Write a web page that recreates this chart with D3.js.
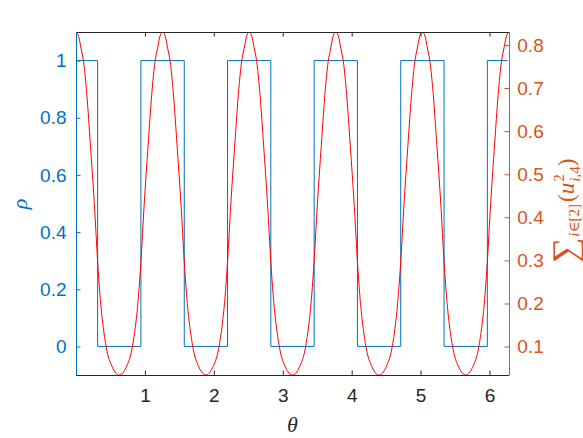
<!DOCTYPE html>
<html>
<head>
<meta charset="utf-8">
<script src="https://cdn.jsdelivr.net/npm/d3@7"></script>
<style>
  body { margin: 0; background: #fff; }
  svg { display: block; }
</style>
</head>
<body>
<div id="chart"></div>
<script>
// blue step curve (rho): edges of each segment and its level
var stepEdges = [0, 0.314, 0.942, 1.571, 2.199, 2.827, 3.456, 4.084, 4.712, 5.341, 5.969, 6.262];
var stepLevels = [1, 0, 1, 0, 1, 0, 1, 0, 1, 0, 1];

// red curve, theta positions and values
var theta = [
  0, 0.04, 0.072, 0.109, 0.157, 0.209, 0.267, 0.314, 0.348, 0.435, 0.528, 0.628, 0.728, 0.821, 0.908, 0.942, 0.989, 1.047, 1.099, 1.147, 1.184, 1.216,
  1.257, 1.297, 1.329, 1.366, 1.414, 1.466, 1.524, 1.571, 1.605, 1.692, 1.785, 1.885, 1.985, 2.078, 2.165, 2.199, 2.246, 2.304, 2.356, 2.404, 2.441, 2.473,
  2.513, 2.553, 2.585, 2.622, 2.670, 2.722, 2.780, 2.827, 2.861, 2.948, 3.041, 3.141, 3.241, 3.334, 3.421, 3.455, 3.502, 3.560, 3.612, 3.660, 3.697, 3.729,
  3.770, 3.810, 3.842, 3.879, 3.927, 3.979, 4.037, 4.084, 4.118, 4.205, 4.298, 4.398, 4.498, 4.591, 4.678, 4.712, 4.759, 4.817, 4.869, 4.917, 4.954, 4.986,
  5.027, 5.067, 5.099, 5.136, 5.184, 5.236, 5.294, 5.341, 5.375, 5.462, 5.555, 5.655, 5.755, 5.848, 5.935, 5.969, 6.016, 6.074, 6.126, 6.174, 6.211, 6.243,
  6.283
];
var sumU = [
  0.830, 0.819, 0.793, 0.762, 0.685, 0.568, 0.429, 0.297, 0.220, 0.102, 0.052, 0.034, 0.052, 0.102, 0.220, 0.297, 0.429, 0.568, 0.685, 0.762, 0.793, 0.819,
  0.830, 0.819, 0.793, 0.762, 0.685, 0.568, 0.429, 0.297, 0.220, 0.102, 0.052, 0.034, 0.052, 0.102, 0.220, 0.297, 0.429, 0.568, 0.685, 0.762, 0.793, 0.819,
  0.830, 0.819, 0.793, 0.762, 0.685, 0.568, 0.429, 0.297, 0.220, 0.102, 0.052, 0.034, 0.052, 0.102, 0.220, 0.297, 0.429, 0.568, 0.685, 0.762, 0.793, 0.819,
  0.830, 0.819, 0.793, 0.762, 0.685, 0.568, 0.429, 0.297, 0.220, 0.102, 0.052, 0.034, 0.052, 0.102, 0.220, 0.297, 0.429, 0.568, 0.685, 0.762, 0.793, 0.819,
  0.830, 0.819, 0.793, 0.762, 0.685, 0.568, 0.429, 0.297, 0.220, 0.102, 0.052, 0.034, 0.052, 0.102, 0.220, 0.297, 0.429, 0.568, 0.685, 0.762, 0.793, 0.819,
  0.830
];

var xTicks = [1, 2, 3, 4, 5, 6];
var leftTicks = [0, 0.2, 0.4, 0.6, 0.8, 1];
var rightTicks = [0.1, 0.2, 0.3, 0.4, 0.5, 0.6, 0.7, 0.8];

var blue = "#0072BD", orange = "#D95319", dark = "#262626";

var W = 583, H = 438;
var margin = {top: 32, right: 74, bottom: 63, left: 76},
    width = W - margin.left - margin.right,
    height = H - margin.top - margin.bottom;

var svg = d3.select("#chart").append("svg")
    .attr("width", W)
    .attr("height", H);

var g = svg.append("g")
    .attr("transform", "translate(" + margin.left + "," + margin.top + ")");

var x = d3.scaleLinear().domain([0, 2 * Math.PI]).range([0, width]);
var yL = d3.scaleLinear().domain([-0.1, 1.1]).range([height, 0]);
var yR = d3.scaleLinear().domain([0.034, 0.830]).range([height, 0]);

g.append("clipPath").attr("id", "clip")
  .append("rect").attr("width", width).attr("height", height);

// step curve
var stepData = stepEdges.map(function (e, i) {
    return {t: e, v: i < stepLevels.length ? stepLevels[i] : stepLevels[stepLevels.length - 1]};
});
g.append("path")
    .datum(stepData)
    .attr("clip-path", "url(#clip)")
    .attr("fill", "none")
    .attr("stroke", blue)
    .attr("stroke-width", 1)
    .attr("d", d3.line()
        .x(function (d) { return x(d.t); })
        .y(function (d) { return yL(d.v); })
        .curve(d3.curveStepAfter));

// red curve
var redData = theta.map(function (t, i) { return {t: t, v: sumU[i]}; });
g.append("path")
    .datum(redData)
    .attr("clip-path", "url(#clip)")
    .attr("fill", "none")
    .attr("stroke", "#FF0000")
    .attr("stroke-width", 1)
    .attr("d", d3.line()
        .x(function (d) { return x(d.t); })
        .y(function (d) { return yR(d.v); })
        .curve(d3.curveMonotoneX));

var fmt = function (d) { return String(+d.toFixed(1)); };
var tickFont = "'Liberation Sans', Arial, Helvetica, sans-serif";

// bottom axis
var xb = g.append("g")
    .attr("transform", "translate(0," + height + ")")
    .call(d3.axisBottom(x).tickValues(xTicks).tickSize(-4.5).tickPadding(14).tickFormat(d3.format("d")));
// top axis ticks only
var xt = g.append("g")
    .call(d3.axisTop(x).tickValues(xTicks).tickSize(-4.5).tickFormat(""));
// left axis
var yl = g.append("g")
    .call(d3.axisLeft(yL).tickValues(leftTicks).tickSize(-4.5).tickPadding(9.5).tickFormat(fmt));
// right axis
var yr = g.append("g")
    .attr("transform", "translate(" + width + ",0)")
    .call(d3.axisRight(yR).tickValues(rightTicks).tickSize(-4.5).tickPadding(8.3).tickFormat(fmt));

[[xb, dark], [xt, dark], [yl, blue], [yr, orange]].forEach(function (a) {
    a[0].select(".domain").remove();
    a[0].selectAll("line").attr("stroke", a[1]);
    a[0].selectAll("text")
        .attr("fill", a[1])
        .style("font-family", tickFont)
        .style("font-size", "19px");
});

// box lines
g.append("line").attr("x1", 0).attr("x2", width).attr("y1", 0.5).attr("y2", 0.5).attr("stroke", dark);
g.append("line").attr("x1", 0).attr("x2", width).attr("y1", height + 0.5).attr("y2", height + 0.5).attr("stroke", dark);
g.append("line").attr("x1", 0.5).attr("x2", 0.5).attr("y1", 0).attr("y2", height + 0.5).attr("stroke", blue);
g.append("line").attr("x1", width + 0.5).attr("x2", width + 0.5).attr("y1", 0).attr("y2", height + 0.5).attr("stroke", orange);

var serif = "'Liberation Serif', 'DejaVu Serif', 'Times New Roman', serif";

// x label
svg.append("text")
    .attr("x", margin.left + width / 2)
    .attr("y", 432)
    .attr("text-anchor", "middle")
    .style("font-family", serif)
    .style("font-style", "italic")
    .style("font-size", "22px")
    .attr("fill", dark)
    .text("θ");

// left label
svg.append("text")
    .attr("transform", "translate(27,204) rotate(-90)")
    .attr("text-anchor", "middle")
    .style("font-family", serif)
    .style("font-style", "italic")
    .style("font-size", "22px")
    .attr("fill", blue)
    .text("ρ");

// right label
var rl = svg.append("text")
    .attr("transform", "translate(574,211) rotate(-90)")
    .attr("text-anchor", "middle")
    .style("font-family", serif)
    .style("font-size", "23px")
    .attr("fill", orange);
rl.append("tspan").style("font-size", "36px").attr("dy", 3).text("∑");
rl.append("tspan").style("font-size", "15px").style("font-style", "italic").attr("dy", 2).attr("dx", 1).text("i");
rl.append("tspan").style("font-size", "15px").text("∈[2]");
rl.append("tspan").attr("dy", -5).attr("dx", 2).text("(");
rl.append("tspan").style("font-style", "italic").text("u");
rl.append("tspan").style("font-size", "15px").attr("dy", -10).attr("dx", 1).text("2");
rl.append("tspan").style("font-size", "15px").style("font-style", "italic").attr("dy", 16).attr("dx", -7.5).text("i");
rl.append("tspan").style("font-size", "15px").text(",4");
rl.append("tspan").attr("dy", -6).text(")");
</script>
</body>
</html>
